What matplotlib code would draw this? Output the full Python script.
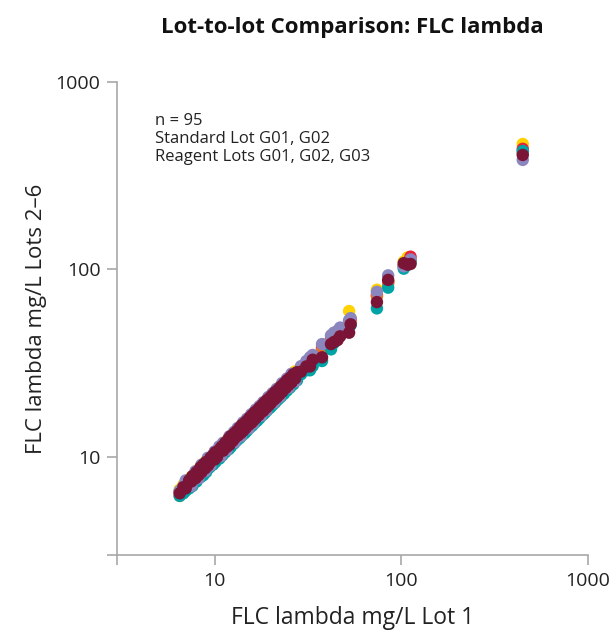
#!/usr/bin/env python3
"""Lot-to-lot comparison scatter, FLC lambda (log-log)"""
import matplotlib
matplotlib.use('Agg')
import matplotlib.pyplot as plt

plt.rcParams['font.family'] = ['Open Sans', 'DejaVu Sans']

# Lot 1 (reference) values, mg/L
lot1 = [6.5, 6.8, 7.0, 7.3, 7.5, 7.6, 7.9, 8.0, 8.2, 8.4,
        8.5, 8.7, 8.9, 9.0, 9.2, 9.4, 9.5, 9.8, 10.0, 10.1,
        10.3, 10.6, 10.8, 11.0, 11.1, 11.4, 11.6, 11.9, 12.0, 12.2,
        12.5, 12.7, 12.8, 13.1, 13.3, 13.6, 13.8, 14.0, 14.2, 14.5,
        14.6, 14.9, 15.2, 15.4, 15.7, 15.9, 16.1, 16.4, 16.6, 16.9,
        17.2, 17.4, 17.7, 18.0, 18.2, 18.5, 18.9, 19.1, 19.4, 19.8,
        20.0, 20.4, 20.8, 21.1, 21.5, 21.9, 22.3, 22.6, 23.0, 23.5,
        24.0, 24.4, 24.9, 25.3, 25.8, 26.4, 27.0, 27.6, 29.0, 31.0,
        32.4, 33.5, 37.6, 42.0, 43.5, 45.5, 47.0, 52.5, 53.5, 74.0,
        85.0, 103.0, 108.0, 112.0, 447.0]

# Lots 2-6, one list per colour, same order as lot1
lot_yellow = [6.7, 7.1, 7.3, 7.6, 7.8, 7.9, 8.3, 8.2, 8.6, 8.7,
              8.9, 9.0, 9.4, 9.2, 9.7, 9.8, 9.9, 10.2, 10.6, 10.4,
              10.8, 11.1, 11.4, 11.4, 11.7, 11.8, 12.2, 12.3, 12.7, 12.6,
              13.2, 13.1, 13.5, 13.5, 14.1, 14.0, 14.6, 14.4, 15.0, 14.9,
              15.5, 15.3, 16.1, 15.8, 16.6, 16.3, 17.1, 16.8, 17.6, 17.3,
              18.2, 17.8, 18.7, 18.4, 19.3, 18.9, 20.0, 19.5, 20.6, 20.2,
              21.2, 20.8, 22.0, 21.5, 22.8, 22.3, 23.6, 23.0, 24.4, 24.0,
              25.4, 24.9, 26.4, 25.8, 27.3, 26.9, 28.6, 28.2, 30.0, 31.5,
              33.0, 34.5, 39.0, 43.0, 44.5, 46.5, 48.5, 60.0, 55.0, 78.0,
              86.0, 110.0, 116.0, 114.0, 467.0]
lot_red = [6.5, 6.9, 7.1, 7.4, 7.5, 7.7, 8.0, 8.1, 8.2, 8.5,
           8.6, 8.8, 9.0, 9.1, 9.3, 9.5, 9.6, 9.9, 10.1, 10.2,
           10.4, 10.7, 10.9, 11.1, 11.2, 11.5, 11.7, 12.0, 12.1, 12.3,
           12.6, 12.8, 12.9, 13.2, 13.5, 13.7, 13.9, 14.1, 14.4, 14.6,
           14.8, 15.0, 15.4, 15.5, 15.9, 16.0, 16.3, 16.5, 16.8, 17.0,
           17.4, 17.5, 17.9, 18.2, 18.3, 18.7, 19.1, 19.3, 19.5, 20.0,
           20.2, 20.6, 21.0, 21.3, 21.7, 22.1, 22.5, 22.8, 23.2, 23.8,
           24.2, 24.6, 25.2, 25.5, 26.1, 26.6, 27.3, 27.8, 29.4, 32.0,
           33.0, 34.0, 38.0, 42.5, 44.0, 45.5, 47.5, 53.0, 54.0, 73.0,
           86.0, 105.0, 110.0, 117.0, 440.0]
lot_orange = [6.2, 6.7, 6.9, 7.2, 7.4, 7.5, 7.8, 7.9, 8.1, 8.3,
              8.4, 8.6, 8.8, 8.9, 9.1, 9.3, 9.4, 9.7, 9.9, 10.0,
              10.2, 10.5, 10.6, 10.9, 11.0, 11.2, 11.5, 11.8, 11.9, 12.0,
              12.4, 12.5, 12.7, 13.0, 13.1, 13.5, 13.6, 13.9, 14.0, 14.4,
              14.4, 14.8, 15.0, 15.3, 15.5, 15.8, 15.9, 16.3, 16.4, 16.7,
              17.0, 17.3, 17.5, 17.8, 18.0, 18.4, 18.7, 18.9, 19.2, 19.6,
              19.8, 20.2, 20.5, 20.9, 21.3, 21.6, 22.1, 22.3, 22.8, 23.2,
              23.7, 24.2, 24.6, 25.0, 25.6, 26.1, 26.7, 27.3, 28.5, 30.5,
              32.0, 33.0, 37.0, 41.5, 43.0, 45.0, 46.5, 52.0, 52.5, 72.0,
              84.0, 104.0, 107.0, 111.0, 420.0]
lot_teal = [6.2, 6.4, 6.6, 6.8, 7.1, 7.0, 7.5, 7.4, 7.8, 7.8,
            8.1, 8.0, 8.5, 8.3, 8.7, 8.8, 9.0, 9.1, 9.5, 9.4,
            9.8, 9.8, 10.3, 10.2, 10.6, 10.6, 11.0, 11.0, 11.5, 11.3,
            11.9, 11.8, 12.2, 12.2, 12.7, 12.6, 13.1, 13.0, 13.6, 13.4,
            14.0, 13.8, 14.6, 14.3, 15.0, 14.7, 15.4, 15.2, 15.9, 15.6,
            16.4, 16.1, 17.0, 16.7, 17.4, 17.1, 18.1, 17.7, 18.6, 18.3,
            19.1, 18.9, 19.9, 19.5, 20.6, 20.3, 21.4, 20.9, 22.0, 21.7,
            23.0, 22.6, 23.9, 23.4, 24.7, 24.4, 25.9, 25.6, 27.6, 29.0,
            29.0, 30.5, 32.5, 37.5, 40.5, 43.0, 44.5, 49.5, 50.5, 62.0,
            80.0, 101.0, 106.0, 110.0, 428.0]
lot_lavender = [6.6, 7.0, 7.5, 7.4, 7.0, 7.8, 8.4, 8.1, 7.7, 8.6,
                9.1, 8.8, 8.4, 9.2, 9.9, 9.5, 9.0, 10.0, 10.7, 10.2,
                10.5, 11.4, 10.1, 11.2, 11.9, 11.5, 10.9, 12.1, 12.9, 12.3,
                12.7, 13.6, 12.0, 13.3, 14.3, 13.8, 12.9, 14.2, 15.3, 14.7,
                14.8, 16.0, 14.2, 15.7, 16.9, 16.1, 15.1, 16.7, 17.9, 17.1,
                17.5, 18.7, 16.6, 18.3, 19.6, 18.8, 17.7, 19.4, 20.9, 20.1,
                20.3, 21.9, 19.5, 21.4, 23.1, 22.2, 20.9, 23.0, 24.8, 23.9,
                24.4, 26.2, 23.4, 25.7, 27.8, 26.8, 25.3, 28.0, 30.5, 32.5,
                34.0, 35.0, 40.0, 44.5, 46.0, 47.0, 49.0, 53.5, 55.0, 76.0,
                93.0, 104.0, 108.0, 113.0, 384.0]
lot_maroon = [6.4, 6.9, 6.8, 7.5, 7.4, 7.9, 7.7, 8.3, 8.0, 8.8,
              8.3, 9.1, 8.7, 9.4, 9.0, 9.3, 9.9, 10.2, 9.7, 10.6,
              10.0, 10.9, 11.2, 11.4, 10.8, 11.9, 11.3, 12.5, 11.6, 12.9,
              12.2, 13.3, 12.6, 13.7, 13.0, 14.3, 13.4, 14.8, 13.8, 15.2,
              14.2, 15.6, 14.8, 16.2, 15.2, 16.7, 15.6, 17.3, 16.1, 17.7,
              16.7, 18.3, 17.3, 18.9, 17.6, 19.5, 18.3, 20.1, 18.8, 20.7,
              19.4, 21.4, 20.2, 22.2, 20.8, 22.9, 21.6, 23.7, 22.3, 24.6,
              23.3, 25.6, 24.2, 26.4, 25.0, 27.6, 26.2, 28.3, 28.5, 30.4,
              30.4, 33.0, 34.0, 40.0, 41.0, 42.0, 44.0, 46.0, 51.0, 67.0,
              88.0, 108.0, 106.0, 107.0, 408.0]

series = [
    (lot_yellow, '#FFD200'),
    (lot_red, '#E8243C'),
    (lot_orange, '#EE7121'),
    (lot_teal, '#00A3A6'),
    (lot_lavender, '#8C86BF'),
    (lot_maroon, '#7A1537'),
]

fig = plt.figure(figsize=(6.14, 6.34), dpi=100)
ax = fig.add_axes([0.1906, 0.1246, 0.7671, 0.7461])

for ys, col in series:
    ax.scatter(lot1, ys, s=80, color=col, edgecolors='none', zorder=3)

ax.set_xscale('log')
ax.set_yscale('log')
ax.set_xlim(3, 1000)
ax.set_ylim(3, 1000)

ax.set_xticks([3, 10, 100, 1000])
ax.set_xticklabels(['', '10', '100', '1000'])
ax.set_yticks([3, 10, 100, 1000])
ax.set_yticklabels(['', '10', '100', '1000'])
ax.minorticks_off()

for side in ['top', 'right']:
    ax.spines[side].set_visible(False)
for side in ['left', 'bottom']:
    ax.spines[side].set_color('#a8a8a8')
    ax.spines[side].set_linewidth(1.2)
ax.tick_params(direction='out', length=7, width=1.2, color='#a8a8a8',
               labelsize=14, labelcolor='#222222', pad=5)

ax.set_xlabel('FLC lambda mg/L Lot 1', fontsize=16.5, color='#222222', labelpad=12)
ax.set_ylabel('FLC lambda mg/L Lots 2\u20136', fontsize=16, color='#222222', labelpad=6)

ax.text(0.081, 0.934, 'n = 95\nStandard Lot G01, G02\nReagent Lots G01, G02, G03',
        transform=ax.transAxes, fontsize=12, color='#222222', va='top',
        linespacing=1.15)

fig.text(0.573, 0.957, 'Lot-to-lot Comparison: FLC lambda', ha='center', va='center',
         fontsize=16, fontweight='bold', color='#111111')

fig.savefig('out.png', dpi=100)
plt.close()
